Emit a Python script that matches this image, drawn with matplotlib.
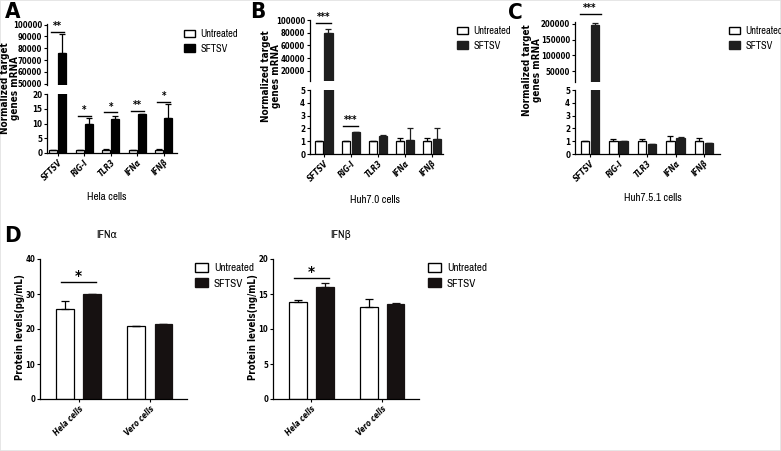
import numpy as np
import matplotlib.pyplot as plt
from matplotlib.patches import Patch, Rectangle

plt.rcParams['font.family'] = ['DejaVu Sans']
plt.rcParams['font.stretch'] = 'condensed'
NARROW = ['Archivo Narrow', 'DejaVu Sans']

W, H = 781, 451

# --- data ---
genes = ['SFTSV', 'RIG-I', 'TLR3', 'IFNα', 'IFNβ']

a_untr = [1.0, 1.0, 1.0, 1.0, 1.0]
a_untr_err = [0.05, 0.15, 0.2, 0.15, 0.2]
a_sftsv = [76300, 10.0, 11.6, 13.1, 12.0]
a_sftsv_err = [15700, 1.8, 1.0, 0.15, 4.5]
a_sig_grp = [0, 1, 2, 3, 4]
a_sig_y = [94000, 12.7, 13.8, 14.4, 17.4]
a_sig_txt = ['**', '*', '*', '**', '*']

b_untr = [1.0, 1.0, 1.0, 1.0, 1.0]
b_untr_err = [0.05, 0.03, 0.05, 0.25, 0.27]
b_sftsv = [79000, 1.68, 1.4, 1.12, 1.17]
b_sftsv_err = [7000, 0.03, 0.12, 0.9, 0.88]
b_sig_grp = [0, 1]
b_sig_y = [95000, 2.2]
b_sig_txt = ['***', '***']

c_untr = [1.0, 1.0, 1.0, 1.0, 1.0]
c_untr_err = [0.03, 0.2, 0.15, 0.4, 0.28]
c_sftsv = [198000, 1.0, 0.75, 1.28, 0.85]
c_sftsv_err = [5000, 0.05, 0.04, 0.04, 0.03]
c_sig_grp = [0]
c_sig_y = [232000]
c_sig_txt = ['***']

cells = ['Hela cells', 'Vero cells']
ifna_untr = [25.8, 20.8]
ifna_untr_err = [2.2, 0.15]
ifna_sftsv = [29.9, 21.4]
ifna_sftsv_err = [0.1, 0.1]
ifnb_untr = [13.9, 13.1]
ifnb_untr_err = [0.2, 1.2]
ifnb_sftsv = [16.0, 13.6]
ifnb_sftsv_err = [0.55, 0.1]

fig = plt.figure(figsize=(W / 100, H / 100), dpi=100)


def box(x0, y0, x1, y1):
    # pixel box (top-left origin) -> figure fraction
    return [x0 / W, 1 - y1 / H, (x1 - x0) / W, (y1 - y0) / H]


def style(ax, size=5.8):
    for s in ['top', 'right']:
        ax.spines[s].set_visible(False)
    for s in ['left', 'bottom']:
        ax.spines[s].set_linewidth(0.9)
    ax.tick_params(width=0.8, length=2.5, pad=1, labelsize=size)
    for lab in ax.get_yticklabels():
        lab.set_fontweight('bold')


def bars(ax, untr, untr_err, sftsv, sftsv_err, width, off, black, cap=2):
    x = np.arange(len(untr))
    n = len(untr)
    ax.bar(x - off, untr, width, color='white', edgecolor='black', lw=0.9, zorder=2)
    ax.bar(x + off, sftsv, width, color=black, edgecolor=black, lw=0.9, zorder=2)
    ax.errorbar(x - off, untr, yerr=[np.zeros(n), untr_err], fmt='none', ecolor='black',
                elinewidth=0.9, capsize=cap, capthick=0.9, zorder=3)
    ax.errorbar(x + off, sftsv, yerr=[np.zeros(n), sftsv_err], fmt='none', ecolor=black,
                elinewidth=0.9, capsize=cap, capthick=0.9, zorder=3)


def sig(ax, xc, y, txt, half, size=7, dy=0.5):
    ax.plot([xc - half, xc + half], [y, y], color='black', lw=1.0, clip_on=False)
    ax.annotate(txt, (xc, y), xytext=(0, dy), textcoords='offset points', ha='center',
                va='bottom', fontsize=size, fontweight='bold', annotation_clip=False)


def xlabels(ax, labels):
    ax.set_xticks(np.arange(len(labels)))
    ax.set_xticklabels(labels, rotation=45, ha='right', rotation_mode='anchor',
                       fontstyle='italic', fontweight='bold', fontsize=6.2)


def broken(x0, x1, up_px, lo_px, up_lim, lo_lim, up_ticks, lo_ticks, data, sigs, xlim,
           width, off, black, half):
    untr, untr_err, sftsv, sftsv_err = data
    ax_up = fig.add_axes(box(x0, up_px[0], x1, up_px[1]))
    ax_lo = fig.add_axes(box(x0, lo_px[0], x1, lo_px[1]))
    for ax in (ax_up, ax_lo):
        bars(ax, untr, untr_err, sftsv, sftsv_err, width, off, black)
        ax.set_xlim(xlim)
    ax_up.set_ylim(up_lim)
    ax_lo.set_ylim(lo_lim)
    ax_up.set_yticks(up_ticks)
    ax_up.set_yticklabels([str(t) for t in up_ticks])
    ax_lo.set_yticks(lo_ticks)
    ax_up.spines['bottom'].set_visible(False)
    ax_up.set_xticks([])
    xlabels(ax_lo, genes)
    style(ax_up, 5.6)
    style(ax_lo)
    for g, y, t in zip(*sigs):
        ax = ax_up if y > up_lim[0] else ax_lo
        sig(ax, g, y, t, half)
    return ax_up, ax_lo


def legend(x, y, size=7.5, hl=1.1, hh=0.75, black='black'):
    h = [Patch(facecolor='white', edgecolor='black', lw=1.0),
         Patch(facecolor=black, edgecolor=black, lw=1.0)]
    fig.legend(h, ['Untreated', 'SFTSV'], loc='upper left', bbox_to_anchor=(x / W, 1 - y / H),
               frameon=False, prop=dict(family=NARROW, size=size), borderaxespad=0,
               borderpad=0, handlelength=hl, handleheight=hh, handletextpad=0.5,
               labelspacing=0.45)


def ylab(x, y, txt, size=7.1):
    fig.text(x / W, 1 - y / H, txt, rotation=90, ha='center', va='center',
             multialignment='center', fontsize=size, fontweight='bold', linespacing=1.05)


# ---- panel A ----
broken(47, 177, (24, 85), (94, 153), (49000, 100500), (0, 20),
       list(range(50000, 100001, 10000)), [0, 5, 10, 15, 20],
       (a_untr, a_untr_err, a_sftsv, a_sftsv_err),
       (a_sig_grp, a_sig_y, a_sig_txt), (-0.4, 4.5), 0.3, 0.17, 'black', 0.24)
ylab(10, 88, 'Normalized target\ngenes mRNA')
fig.text(107 / W, 1 - 197 / H, 'Hela cells', ha='center', va='center', fontsize=8,
         family=NARROW)
legend(184, 29)
fig.text(5 / W, 1 - 2 / H, 'A', ha='left', va='top', fontsize=16, fontweight='bold')

# ---- panel B ----
broken(310, 443, (20, 81), (90, 154), (4300, 100000), (0, 5),
       [20000, 40000, 60000, 80000, 100000], [0, 1, 2, 3, 4, 5],
       (b_untr, b_untr_err, b_sftsv, b_sftsv_err),
       (b_sig_grp, b_sig_y, b_sig_txt), (-0.5, 4.4), 0.3, 0.18, '#1e1e1e', 0.27)
ylab(271, 76, 'Normalized target\ngenes mRNA')
fig.text(375 / W, 1 - 200 / H, 'Huh7.0 cells', ha='center', va='center', fontsize=8,
         family=NARROW)
legend(457, 26, black='#1e1e1e')
fig.text(250 / W, 1 - 2 / H, 'B', ha='left', va='top', fontsize=16, fontweight='bold')

# ---- panel C ----
broken(575, 720, (22.4, 82), (90, 154), (15000, 205000), (0, 5),
       [50000, 100000, 150000, 200000], [0, 1, 2, 3, 4, 5],
       (c_untr, c_untr_err, c_sftsv, c_sftsv_err),
       (c_sig_grp, c_sig_y, c_sig_txt), (-0.53, 4.56), 0.3, 0.18, '#1e1e1e', 0.37)
ylab(532, 70, 'Normalized target\ngenes mRNA')
fig.text(653 / W, 1 - 198 / H, 'Huh7.5.1 cells', ha='center', va='center', fontsize=8,
         family=NARROW)
legend(729, 26, black='#1e1e1e')
fig.text(508 / W, 1 - 3 / H, 'C', ha='left', va='top', fontsize=16, fontweight='bold')

# ---- panel D ----
dblack = '#161111'
for (x0, x1, ylim, yt, untr, ue, sf, se, sy, title, tx, ylabel, lx, yx) in [
        (40, 187, (0, 40), [0, 10, 20, 30, 40], ifna_untr, ifna_untr_err, ifna_sftsv,
         ifna_sftsv_err, 33.5, 'IFNα', 107, 'Protein levels(pg/mL)', 195, 20),
        (273, 419, (0, 20), [0, 5, 10, 15, 20], ifnb_untr, ifnb_untr_err, ifnb_sftsv,
         ifnb_sftsv_err, 17.3, 'IFNβ', 341, 'Protein levels(ng/mL)', 428, 253)]:
    ax = fig.add_axes(box(x0, 259, x1, 399))
    bars(ax, untr, ue, sf, se, 0.25, 0.19, dblack, cap=3)
    ax.set_xlim(-0.54, 1.52)
    ax.set_ylim(ylim)
    ax.set_yticks(yt)
    xlabels(ax, cells)
    style(ax, 5.6)
    sig(ax, 0, sy, '*', 0.25, size=11, dy=-2)
    fig.text(tx / W, 1 - 235 / H, title, ha='center', va='center', fontsize=8,
             family=NARROW)
    ylab(yx, 327, ylabel, size=6.9)
    legend(lx, 263, size=8, hl=1.2, hh=0.85, black=dblack)
fig.text(4 / W, 1 - 226 / H, 'D', ha='left', va='top', fontsize=16, fontweight='bold')

# faint frame around the picture
fig.patches.append(Rectangle((0, 0), 1, 1, transform=fig.transFigure, fill=False,
                             edgecolor='#e2e2e2', lw=1.2))

fig.savefig('out.png', dpi=100)
